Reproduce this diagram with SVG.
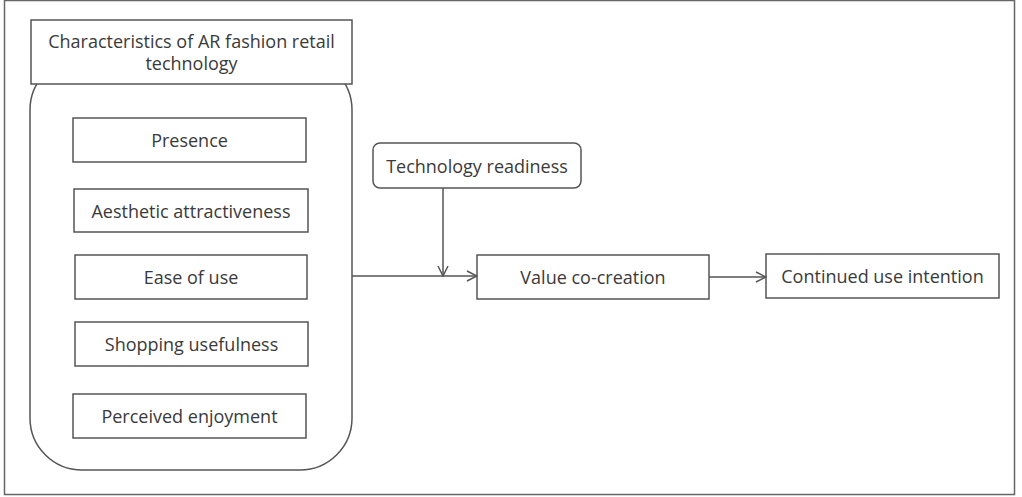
<svg xmlns="http://www.w3.org/2000/svg" width="1022" height="497" viewBox="0 0 1022 497">
<style>
.box{fill:#fff;stroke:#555;stroke-width:1.5}
.t{font-family:"Open Sans","Liberation Sans",sans-serif;font-size:18px;fill:#3a3a3a;text-anchor:middle;dominant-baseline:central}
.c{fill:none;stroke:#555;stroke-width:1.5}
</style>
<defs>
<marker id="ah" viewBox="0 0 12 12" refX="11" refY="6" markerWidth="12" markerHeight="12" markerUnits="userSpaceOnUse" orient="auto">
<path d="M1,1 L11,6 L1,11" fill="none" stroke="#555" stroke-width="1.5"/>
</marker>
</defs>
<rect x="0" y="0" width="1022" height="497" fill="#fff"/>
<rect x="4.5" y="0.5" width="1010" height="494" fill="none" stroke="#666" stroke-width="1.5"/>
<g id="container"><rect class="box" x="30" y="58" width="322" height="412" rx="52" ry="52"/></g>
<g id="title"><rect class="box" x="31" y="20" width="321" height="64"/><text class="t" x="191.5" y="41">Characteristics of AR fashion retail</text><text class="t" x="191.5" y="63">technology</text></g>
<g id="presence"><rect class="box" x="73" y="118" width="233" height="44"/><text class="t" x="189.5" y="140">Presence</text></g>
<g id="aesthetic"><rect class="box" x="74" y="189" width="234" height="43"/><text class="t" x="191" y="210.5">Aesthetic attractiveness</text></g>
<g id="ease"><rect class="box" x="75" y="255" width="232" height="44"/><text class="t" x="191" y="277">Ease of use</text></g>
<g id="shopping"><rect class="box" x="75" y="322" width="233" height="44"/><text class="t" x="191.5" y="344">Shopping usefulness</text></g>
<g id="enjoyment"><rect class="box" x="73" y="394" width="233" height="44"/><text class="t" x="189.5" y="416">Perceived enjoyment</text></g>
<g id="readiness"><rect class="box" x="373" y="143" width="208" height="45" rx="7"/><text class="t" x="477" y="165.5">Technology readiness</text></g>
<g id="value"><rect class="box" x="477" y="255" width="232" height="44"/><text class="t" x="593" y="277">Value co-creation</text></g>
<g id="continued"><rect class="box" x="766" y="254" width="233" height="44"/><text class="t" x="882.5" y="276">Continued use intention</text></g>
<g id="connectors">
<line class="c" x1="352" y1="276" x2="477" y2="276" marker-end="url(#ah)"/>
<line class="c" x1="443" y1="188" x2="443" y2="276" marker-end="url(#ah)"/>
<line class="c" x1="709" y1="277" x2="766" y2="277" marker-end="url(#ah)"/>
</g>
</svg>
